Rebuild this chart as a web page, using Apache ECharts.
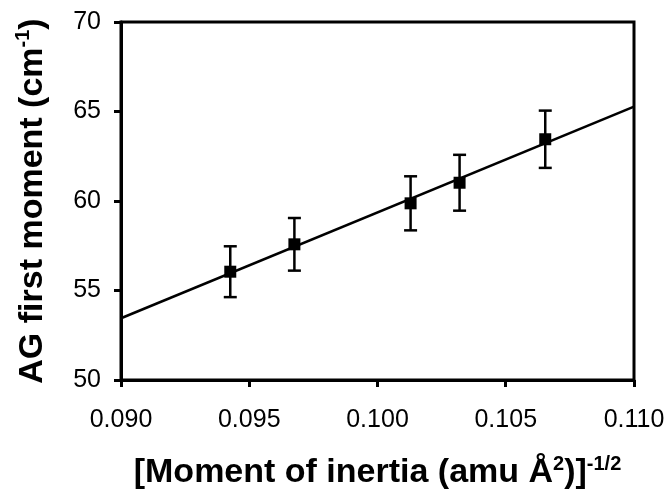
<!DOCTYPE html>
<html>
<head>
<meta charset="utf-8">
<script src="https://cdn.jsdelivr.net/npm/echarts@6/dist/echarts.min.js"></script>
<style>
  html, body { margin: 0; padding: 0; background: #fff; }
  #chart { width: 669px; height: 491px; }
</style>
</head>
<body>
<div id="chart"></div>
<script>
// 数据：惯性矩^(-1/2) 与 AG 一阶矩
var xValues = [0.09426, 0.09676, 0.10129, 0.10320, 0.10654];
var yValues = [56.05, 57.58, 59.87, 61.02, 63.45];
var yErrors = [1.42, 1.47, 1.51, 1.56, 1.60];
// 拟合直线两端
var fitX = [0.090, 0.110];
var fitY = [53.45, 65.27];
// 刻度
var xTicks = [0.090, 0.095, 0.100, 0.105, 0.110];
var yTicks = [50, 55, 60, 65, 70];

var points = xValues.map(function (x, i) { return [x, yValues[i]]; });
var errData = xValues.map(function (x, i) { return [x, yValues[i] - yErrors[i], yValues[i] + yErrors[i]]; });
var fitData = fitX.map(function (x, i) { return [x, fitY[i]]; });

var font = 'Liberation Sans, Arial, sans-serif';

var chart = echarts.init(document.getElementById('chart'));
var option = {
    backgroundColor: '#fff',
    animation: false,
    grid: {
        left: 121, right: 35, top: 22, bottom: 111,
        outerBoundsMode: 'none',
        containLabel: false,
        show: true,
        borderColor: '#000',
        borderWidth: 3
    },
    xAxis: {
        type: 'value',
        min: xTicks[0],
        max: xTicks[xTicks.length - 1],
        interval: 0.005,
        splitLine: { show: false },
        axisLine: { lineStyle: { color: '#000', width: 3 } },
        axisTick: { length: 7, lineStyle: { color: '#000', width: 3 } },
        axisLabel: {
            color: '#000', fontSize: 25, fontFamily: font, margin: 28,
            formatter: function (v) { return v.toFixed(3); }
        },
        name: '{t|[Moment of inertia (amu Å}{s|2}{t|)]}{s|-1/2}',
        nameLocation: 'middle',
        nameGap: 74,
        nameTextStyle: {
            rich: {
                t: { fontSize: 34, fontWeight: 'bold', fontFamily: font, color: '#000', lineHeight: 38 },
                s: { fontSize: 20, fontWeight: 'bold', fontFamily: font, color: '#000', verticalAlign: 'top', lineHeight: 38 }
            }
        }
    },
    yAxis: {
        type: 'value',
        min: yTicks[0],
        max: yTicks[yTicks.length - 1],
        interval: 5,
        splitLine: { show: false },
        axisLine: { lineStyle: { color: '#000', width: 3 } },
        axisTick: { length: 7, lineStyle: { color: '#000', width: 3 } },
        axisLabel: { color: '#000', fontSize: 25, fontFamily: font, margin: 20 },
        name: '{t|AG first moment (cm}{s|-1}{t|)}',
        nameLocation: 'middle',
        nameRotate: 90,
        nameGap: 68,
        nameTextStyle: {
            rich: {
                t: { fontSize: 34, fontWeight: 'bold', fontFamily: font, color: '#000', lineHeight: 40 },
                s: { fontSize: 20, fontWeight: 'bold', fontFamily: font, color: '#000', verticalAlign: 'top', lineHeight: 40 }
            }
        }
    },
    series: [
        {
            // 拟合线
            type: 'line',
            data: fitData,
            showSymbol: false,
            lineStyle: { color: '#000', width: 2.5 },
            z: 2
        },
        {
            // 误差棒
            type: 'custom',
            data: errData,
            z: 3,
            renderItem: function (params, api) {
                var x = api.value(0);
                var lo = api.coord([x, api.value(1)]);
                var hi = api.coord([x, api.value(2)]);
                var cap = 6.5;
                var style = { stroke: '#000', lineWidth: 2.5 };
                return {
                    type: 'group',
                    children: [
                        { type: 'line', shape: { x1: lo[0], y1: lo[1], x2: hi[0], y2: hi[1] }, style: style },
                        { type: 'line', shape: { x1: lo[0] - cap, y1: lo[1], x2: lo[0] + cap, y2: lo[1] }, style: style },
                        { type: 'line', shape: { x1: hi[0] - cap, y1: hi[1], x2: hi[0] + cap, y2: hi[1] }, style: style }
                    ]
                };
            }
        },
        {
            // 数据点
            type: 'scatter',
            data: points,
            symbol: 'rect',
            symbolSize: 12,
            itemStyle: { color: '#000', opacity: 1 },
            emphasis: { disabled: true },
            z: 4
        }
    ]
};
chart.setOption(option);
</script>
</body>
</html>
